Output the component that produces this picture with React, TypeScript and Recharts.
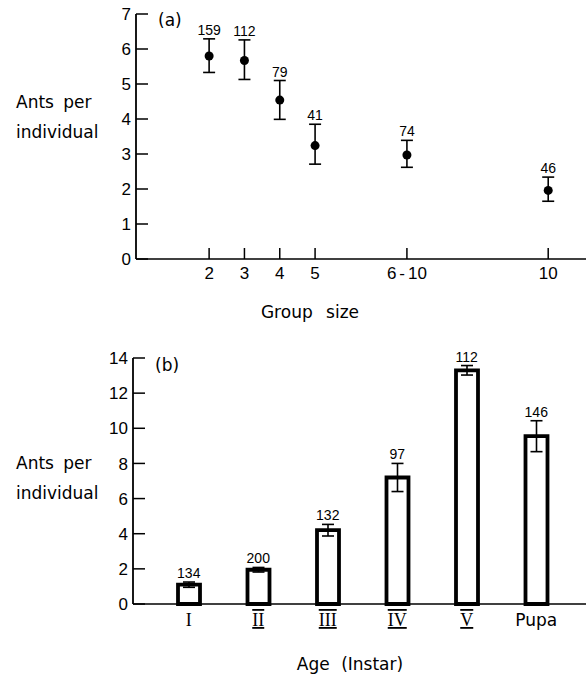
import React from "react";
import {
  ScatterChart,
  Scatter,
  ComposedChart,
  Bar,
  Line,
  XAxis,
  YAxis,
  ErrorBar,
  LabelList,
} from "recharts";

// (a) ants per individual vs group size
const groupLabels = ["2", "3", "4", "5", "6-10", "10"];
const groupPos = [2, 3, 4, 5, 7.6, 11.6];
const groupMean = [5.8, 5.67, 4.54, 3.24, 2.97, 1.96];
const groupLow = [5.33, 5.13, 3.99, 2.71, 2.62, 1.65];
const groupHigh = [6.29, 6.26, 5.1, 3.85, 3.39, 2.34];
const groupN = [159, 112, 79, 41, 74, 46];
const groupTicksY = [0, 1, 2, 3, 4, 5, 6, 7];

// (b) ants per individual vs age
const ageLabels = ["I", "II", "III", "IV", "V", "Pupa"];
const ageMean = [1.1, 1.95, 4.2, 7.2, 13.3, 9.55];
const ageErr = [0.15, 0.13, 0.33, 0.8, 0.27, 0.88];
const ageN = [134, 200, 132, 97, 112, 146];
const ageTicksY = [0, 2, 4, 6, 8, 10, 12, 14];

const NUM_FONT = "'Liberation Sans', Arial, sans-serif";
const TEXT_FONT = "'DejaVu Sans', sans-serif";

const groupRows = groupPos.map((p, i) => ({
  x: p,
  y: groupMean[i],
  err: [groupMean[i] - groupLow[i], groupHigh[i] - groupMean[i]],
}));
const groupLabelRows = groupPos.map((p, i) => ({ x: p, y: groupHigh[i], n: groupN[i] }));

const ageRows = ageLabels.map((name, i) => ({
  name,
  mean: ageMean[i],
  err: ageErr[i],
  hi: ageMean[i] + ageErr[i],
  n: ageN[i],
}));

const YTick = (props: any) => {
  const { x, y, payload } = props;
  return (
    <g>
      <line x1={x} x2={x + 12} y1={y} y2={y} stroke="#000" strokeWidth={1.5} />
      <text x={x - 5} y={y} dy="0.36em" textAnchor="end" fontSize={17} fontFamily={NUM_FONT} fill="#000">
        {payload.value}
      </text>
    </g>
  );
};

const GroupTick = (props: any) => {
  const { x, y, payload } = props;
  const label = groupLabels[groupPos.indexOf(payload.value)] || "";
  const parts = label.split("-");
  return (
    <g>
      <line x1={x} x2={x} y1={y} y2={y - 11} stroke="#000" strokeWidth={1.5} />
      <text x={x} y={y + 20} textAnchor="middle" fontSize={17} fontFamily={NUM_FONT} fill="#000">
        {parts.length > 1 ? (
          <>
            <tspan>{parts[0]}</tspan>
            <tspan dx={3}>-</tspan>
            <tspan dx={3}>{parts[1]}</tspan>
          </>
        ) : (
          label
        )}
      </text>
    </g>
  );
};

const AgeTick = (props: any) => {
  const { x, y, payload } = props;
  const roman = payload.value !== "Pupa";
  return (
    <text
      x={x}
      y={y + 22}
      textAnchor="middle"
      fontSize={roman ? 18 : 17}
      fontFamily={roman ? "'Liberation Serif', serif" : TEXT_FONT}
      style={roman && payload.value !== "I" ? { textDecoration: "overline underline" } : undefined}
      fill="#000"
    >
      {payload.value}
    </text>
  );
};

const nLabel = (props: any) => {
  const vb = props.viewBox || props;
  const cx = vb.x + (vb.width || 0) / 2;
  const cy = vb.y + (vb.height || 0) / 2;
  return (
    <text x={cx} y={cy - 4} textAnchor="middle" fontSize={14} fontFamily={NUM_FONT} fill="#000">
      {props.value}
    </text>
  );
};

export default function App() {
  return (
    <div style={{ position: "absolute", left: 0, top: 0, width: 586, height: 675, background: "#fff" }}>
      <div style={{ position: "absolute", left: 0, top: 0 }}>
        <ScatterChart width={586} height={300} margin={{ top: 14, right: 0, left: 96, bottom: 11 }}>
          <XAxis
            type="number"
            dataKey="x"
            domain={[-0.07, 12.67]}
            allowDataOverflow
            ticks={groupPos}
            interval={0}
            height={30}
            tickSize={0}
            tickMargin={0}
            tickLine={false}
            tick={<GroupTick />}
            axisLine={{ stroke: "#000", strokeWidth: 1.5 }}
          />
          <YAxis
            type="number"
            dataKey="y"
            domain={[0, 7]}
            ticks={groupTicksY}
            interval={0}
            width={40}
            tickSize={0}
            tickMargin={0}
            tickLine={false}
            tick={<YTick />}
            axisLine={{ stroke: "#000", strokeWidth: 1.8 }}
          />
          <Scatter
            data={groupRows}
            isAnimationActive={false}
            shape={(p: any) => <circle cx={p.cx} cy={p.cy} r={4.5} fill="#000" />}
          >
            <ErrorBar dataKey="err" direction="y" width={6} stroke="#000" strokeWidth={1.6} />
          </Scatter>
          <Scatter data={groupLabelRows} isAnimationActive={false} shape={() => <g />}>
            <LabelList dataKey="n" content={nLabel} />
          </Scatter>
        </ScatterChart>
      </div>

      <div style={{ position: "absolute", left: 0, top: 330 }}>
        <ComposedChart width={586} height={345} data={ageRows} margin={{ top: 28, right: 0, left: 93, bottom: 41 }}>
          <XAxis
            dataKey="name"
            type="category"
            padding={{ left: 21, right: 15 }}
            height={30}
            tickSize={0}
            tickMargin={0}
            tickLine={false}
            tick={<AgeTick />}
            interval={0}
            axisLine={{ stroke: "#000", strokeWidth: 1.5 }}
          />
          <YAxis
            type="number"
            domain={[0, 14]}
            ticks={ageTicksY}
            interval={0}
            width={40}
            tickSize={0}
            tickMargin={0}
            tickLine={false}
            tick={<YTick />}
            axisLine={{ stroke: "#000", strokeWidth: 1.8 }}
          />
          <Bar dataKey="mean" fill="#fff" stroke="#000" strokeWidth={3.8} barSize={22} isAnimationActive={false}>
            <ErrorBar dataKey="err" direction="y" width={6} stroke="#000" strokeWidth={1.6} />
          </Bar>
          <Line dataKey="hi" stroke="none" dot={false} activeDot={false} isAnimationActive={false}>
            <LabelList dataKey="n" content={nLabel} />
          </Line>
        </ComposedChart>
      </div>

      <svg width={586} height={675} style={{ position: "absolute", left: 0, top: 0, pointerEvents: "none" }}>
        <g fontFamily={TEXT_FONT} fontSize={17} fill="#000">
          <text x={158} y={26}>(a)</text>
          <text x={16} y={108} wordSpacing={4}>Ants per</text>
          <text x={16} y={138}>individual</text>
          <text x={310} y={318} textAnchor="middle" wordSpacing={8}>Group size</text>
          <text x={155} y={371}>(b)</text>
          <text x={16} y={469} wordSpacing={4}>Ants per</text>
          <text x={16} y={499}>individual</text>
          <text x={350} y={670} textAnchor="middle" wordSpacing={6}>Age (Instar)</text>
        </g>
      </svg>
    </div>
  );
}
